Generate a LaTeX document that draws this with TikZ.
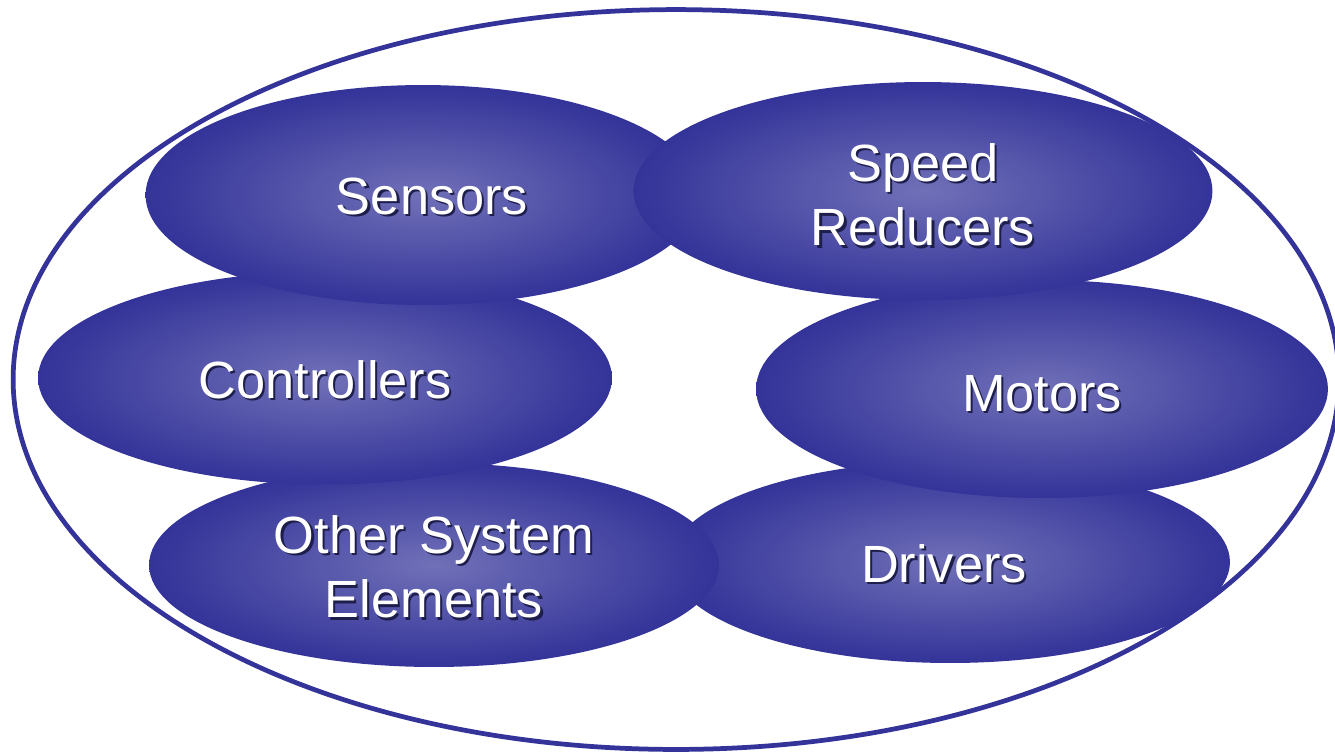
\documentclass[tikz,border=0pt]{standalone}
\usepackage{fontspec}
\setmainfont{Liberation Sans}
\usetikzlibrary{shapes.geometric}
\definecolor{Edge}{HTML}{333399}
\definecolor{Glow}{HTML}{7070B8}
\definecolor{Shade}{HTML}{1E1E4C}

\newcommand{\shadowed}[1]{%
  \leavevmode\rlap{\kern1.2pt\raisebox{-1.2pt}{\textcolor{Shade}{\begin{tabular}{@{}c@{}}#1\end{tabular}}}}%
  \begin{tabular}{@{}c@{}}#1\end{tabular}}

\begin{document}
\begin{tikzpicture}[x=0.02cm, y=-0.02cm,
    part/.style={shape=ellipse, inner sep=0pt, shade, shading=radial, inner color=Glow, outer color=Edge},
    partlabel/.style={text=white, inner sep=0pt, font=\fontsize{29.8}{36.6}\selectfont}]
    \useasboundingbox (0, 0) rectangle (1335, 752);

    \node at (676, 379.5) (system) [shape=ellipse, draw=Edge, line width=2.7pt, minimum width=26.52cm, minimum height=14.8cm] {};

    \node at (950, 562) (drivers) [part, minimum width=11.2cm, minimum height=4.04cm] {};
    \node at (434, 565) (other) [part, minimum width=11.4cm, minimum height=4.08cm] {};
    \node at (1042, 389) (motors) [part, minimum width=11.44cm, minimum height=4.36cm] {};
    \node at (325, 378) (controllers) [part, minimum width=11.48cm, minimum height=4.26cm] {};
    \node at (423, 195) (sensors) [part, minimum width=11.1cm, minimum height=4.4cm] {};
    \node at (923, 191) (reducers) [part, minimum width=11.58cm, minimum height=4.36cm] {};

    \node at (432, 203) (sensorsT) [partlabel] {\shadowed{Sensors}};
    \node at (923, 202) (reducersT) [partlabel] {\shadowed{Speed\\Reducers}};
    \node at (325, 387) (controllersT) [partlabel] {\shadowed{Controllers}};
    \node at (1042, 400) (motorsT) [partlabel] {\shadowed{Motors}};
    \node at (434, 574) (otherT) [partlabel] {\shadowed{Other System\\Elements}};
    \node at (944, 571) (driversT) [partlabel] {\shadowed{Drivers}};
\end{tikzpicture}
\end{document}
